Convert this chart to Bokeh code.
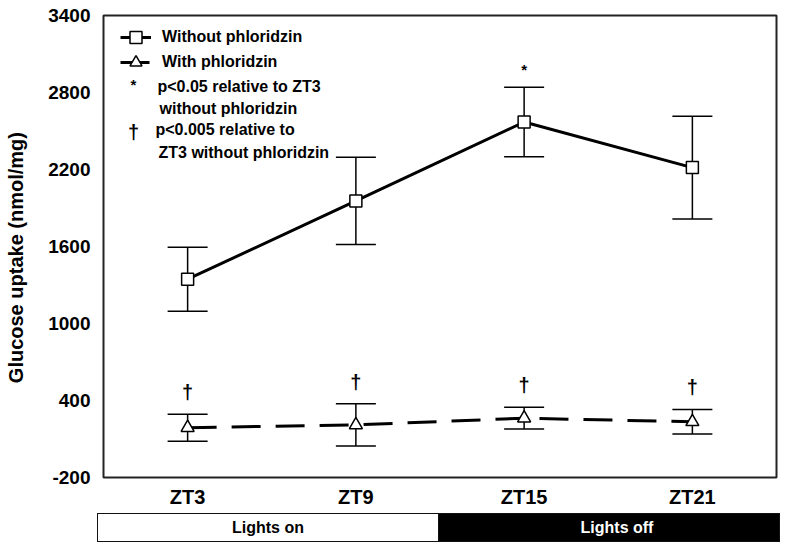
from bokeh.plotting import figure
from bokeh.models import (ColumnDataSource, Range1d, FactorRange, FixedTicker, Whisker,
                          TeeHead, Legend, LegendItem, Label, Div)
from bokeh.layouts import column
from bokeh.embed import file_html
from bokeh.resources import INLINE
from bokeh.core.properties import value

# ---- data ----
categories = ["ZT3", "ZT9", "ZT15", "ZT21"]
without_mean = [1345, 1955, 2570, 2215]
without_sem = [250, 340, 270, 400]
with_mean = [188, 210, 262, 234]
with_sem = [105, 165, 85, 96]
without_sig = ["", "", "*", ""]
with_sig = ["\u2020", "\u2020", "\u2020", "\u2020"]
y_ticks = [-200, 400, 1000, 1600, 2200, 2800, 3400]
y_tick_labels = ["-200", "400", "1000", "1600", "2200", "2800", "3400"]
y_title = "Glucose uptake (nmol/mg)"
light_labels = ["Lights on", "Lights off"]
legend_labels = ["Without phloridzin", "With phloridzin"]
note_lines = ["p<0.05 relative to ZT3", "without phloridzin",
              "p<0.005 relative to", "ZT3 without phloridzin"]

FNAME = "Liberation Sans"
FONT = value(FNAME)

src_without = ColumnDataSource(dict(
    x=categories, y=without_mean,
    upper=[m + e for m, e in zip(without_mean, without_sem)],
    lower=[m - e for m, e in zip(without_mean, without_sem)],
    sig=without_sig))
src_with = ColumnDataSource(dict(
    x=categories, y=with_mean,
    upper=[m + e for m, e in zip(with_mean, with_sem)],
    lower=[m - e for m, e in zip(with_mean, with_sem)],
    sig=with_sig))

p = figure(width=790, height=513, x_range=FactorRange(factors=categories),
           y_range=Range1d(y_ticks[0], y_ticks[-1]),
           output_backend="svg", toolbar_location=None,
           min_border_left=103, min_border_right=14, min_border_top=15, min_border_bottom=36)
p.outline_line_color = "#222222"
p.outline_line_width = 2
p.xgrid.visible = False
p.ygrid.visible = False
p.background_fill_color = "white"
p.border_fill_color = "white"

for ax in (p.xaxis[0], p.yaxis[0]):
    ax.axis_line_color = None
    ax.major_tick_line_color = None
    ax.minor_tick_line_color = None
    ax.major_tick_out = 0
    ax.major_tick_in = 0
    ax.minor_tick_out = 0
    ax.minor_tick_in = 0
    ax.major_label_text_font = FNAME
    ax.major_label_text_font_style = "bold"
    ax.major_label_text_color = "black"

p.xaxis.major_label_text_font_size = "20px"
p.xaxis.major_label_standoff = 8
p.yaxis.major_label_text_font_size = "19px"
p.yaxis.ticker = FixedTicker(ticks=y_ticks)
p.yaxis.major_label_overrides = dict(zip(y_ticks, y_tick_labels))
p.yaxis.major_label_standoff = 13
# trailing no-break spaces nudge the title slightly toward the bottom, as in the original
p.yaxis.axis_label = y_title + "\u00a0" * 4
p.yaxis.axis_label_text_font = FNAME
p.yaxis.axis_label_text_font_style = "bold"
p.yaxis.axis_label_text_font_size = "20px"
p.yaxis.axis_label_text_color = "black"
p.yaxis.axis_label_standoff = 18

# error bars
for src in (src_without, src_with):
    w = Whisker(base="x", upper="upper", lower="lower", source=src,
                line_width=1.5, line_color="black",
                upper_head=TeeHead(size=40, line_width=1.5, line_color="black"),
                lower_head=TeeHead(size=40, line_width=1.5, line_color="black"))
    p.add_layout(w)

l1 = p.line(x="x", y="y", source=src_without, line_width=3, line_color="black")
s1 = p.scatter(x="x", y="y", source=src_without, marker="square", size=12,
               fill_color="white", line_color="black", line_width=1.5)
l2 = p.line(x="x", y="y", source=src_with, line_width=3, line_color="black",
            line_dash="29 15")
s2 = p.scatter(x="x", y="y", source=src_with, marker="triangle", size=13,
               fill_color="white", line_color="black", line_width=1.5)

# significance marks
p.text(x="x", y="upper", text="sig", source=src_without, text_align="center",
       text_baseline="middle", y_offset=-18, text_font=FONT,
       text_font_size="15px", text_font_style="bold", text_color="black")
p.text(x="x", y="upper", text="sig", source=src_with, text_align="center",
       text_baseline="middle", y_offset=-22, text_font=FONT,
       text_font_size="20px", text_font_style="bold", text_color="black")

# legend: one Legend per row so rows can sit close together
for label, rends, ly in [(legend_labels[0], [l1, s1], 425),
                         (legend_labels[1], [l2, s2], 400)]:
    lg = Legend(items=[LegendItem(label=label, renderers=rends)],
                location=(17, ly), glyph_width=31, glyph_height=30, spacing=0,
                padding=0, margin=0, label_standoff=11, label_height=30,
                label_text_font=FNAME, label_text_font_size="16px",
                label_text_font_style="bold", label_text_color="black",
                border_line_color=None, background_fill_alpha=0)
    p.add_layout(lg)

# footnotes (screen units relative to frame)
p.add_layout(Label(x=30, y=393, x_units="screen", y_units="screen", text="*",
                   text_align="center", text_baseline="middle", text_font=FNAME,
                   text_font_size="15px", text_font_style="bold", text_color="black"))
p.add_layout(Label(x=30, y=346, x_units="screen", y_units="screen", text="\u2020",
                   text_align="center", text_baseline="middle", text_font=FNAME,
                   text_font_size="20px", text_font_style="bold", text_color="black"))
for tx, ty, t in [(54, 391, note_lines[0]), (56, 369, note_lines[1]),
                  (52, 348, note_lines[2]), (55, 325, note_lines[3])]:
    p.add_layout(Label(x=tx, y=ty, x_units="screen", y_units="screen", text=t,
                       text_align="left", text_baseline="middle", text_font=FNAME,
                       text_font_size="16px", text_font_style="bold", text_color="black"))

# lights bar
cell = ("position:absolute;top:0;height:29px;box-sizing:border-box;display:flex;"
        "align-items:center;justify-content:center;font:bold 16px 'Liberation Sans';")
bar_html = (
    '<div style="position:relative;width:790px;height:30px;">'
    f'<div style="{cell}left:97px;width:341px;background:#fff;color:#000;'
    f'border:1.5px solid #111;border-right:none;">{light_labels[0]}</div>'
    f'<div style="{cell}left:438px;width:342px;background:#000;color:#fff;'
    f'border:1.5px solid #111;padding-left:16px;">{light_labels[1]}</div>'
    '</div>')
bar = Div(text=bar_html, width=790, height=30, margin=0)

layout = column(p, bar)
open("out.html", "w").write(file_html(layout, INLINE))
